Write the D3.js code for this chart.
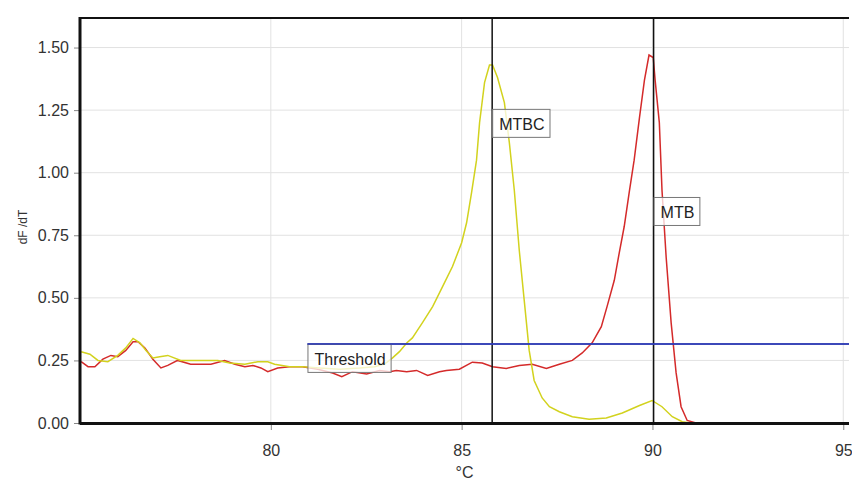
<!doctype html>
<html lang="en">
  <head>
    <meta charset="UTF-8" />
    <title>Melt curve</title>
    <script src="https://cdn.jsdelivr.net/npm/d3@7"></script>
    <style>
      body { margin: 0; background: #fff; }
      svg { display: block; font-family: "Liberation Sans", Arial, sans-serif; }
    </style>
  </head>
  <body>
    <div id="chart"></div>
    <script>
      // red trace (MTB)
      const redTemp = [75.03, 75.21, 75.39, 75.6, 75.81, 75.99, 76.2, 76.39, 76.52, 76.7, 76.91, 77.12, 77.3, 77.56, 77.9, 78.43, 78.79, 79.06, 79.32, 79.53, 79.74, 79.92, 80.18, 80.49, 80.83, 81.23, 81.62, 81.86, 82.14, 82.51, 82.85, 83.11, 83.29, 83.56, 83.82, 84.11, 84.42, 84.6, 84.94, 85.28, 85.54, 85.81, 86.17, 86.51, 86.85, 87.22, 87.56, 87.9, 88.16, 88.42, 88.66, 88.81, 89.0, 89.13, 89.26, 89.39, 89.52, 89.66, 89.79, 89.91, 90.02, 90.07, 90.18, 90.25, 90.36, 90.49, 90.62, 90.75, 90.91, 91.14, 95.0];
      const redVal = [0.245, 0.225, 0.225, 0.255, 0.27, 0.265, 0.29, 0.325, 0.325, 0.3, 0.255, 0.22, 0.23, 0.25, 0.235, 0.235, 0.25, 0.235, 0.225, 0.23, 0.22, 0.205, 0.22, 0.225, 0.225, 0.215, 0.2, 0.185, 0.205, 0.196, 0.21, 0.205, 0.21, 0.205, 0.21, 0.19, 0.205, 0.21, 0.215, 0.243, 0.24, 0.225, 0.218, 0.23, 0.235, 0.218, 0.235, 0.25, 0.28, 0.32, 0.385, 0.465, 0.57, 0.68, 0.785, 0.92, 1.05, 1.22, 1.37, 1.47, 1.46, 1.37, 1.2, 0.93, 0.66, 0.4, 0.2, 0.065, 0.01, 0.0, 0.0];

      // yellow trace (MTBC)
      const yellowTemp = [75.03, 75.26, 75.47, 75.73, 75.99, 76.2, 76.39, 76.57, 76.73, 76.91, 77.09, 77.3, 77.64, 78.0, 78.27, 78.61, 78.92, 79.32, 79.66, 79.92, 80.1, 80.49, 80.83, 81.28, 81.8, 82.33, 82.72, 82.98, 83.19, 83.37, 83.56, 83.71, 83.84, 83.97, 84.24, 84.5, 84.76, 85.0, 85.13, 85.26, 85.39, 85.47, 85.6, 85.73, 85.81, 85.94, 86.12, 86.25, 86.38, 86.51, 86.64, 86.77, 86.9, 87.11, 87.3, 87.56, 87.9, 88.34, 88.79, 89.21, 89.66, 89.99, 90.25, 90.52, 90.78, 91.0, 95.0];
      const yellowVal = [0.285, 0.275, 0.25, 0.245, 0.27, 0.3, 0.338, 0.32, 0.29, 0.26, 0.265, 0.27, 0.25, 0.25, 0.25, 0.25, 0.24, 0.235, 0.245, 0.245, 0.235, 0.225, 0.225, 0.22, 0.215, 0.22, 0.225, 0.235, 0.26, 0.285, 0.32, 0.34, 0.37, 0.4, 0.465, 0.545, 0.625, 0.72, 0.8, 0.92, 1.05, 1.2, 1.36, 1.43, 1.43, 1.38, 1.28, 1.12, 0.93, 0.69, 0.49, 0.29, 0.17, 0.1, 0.065, 0.045, 0.025, 0.015, 0.02, 0.04, 0.07, 0.09, 0.065, 0.025, 0.005, 0.0, 0.0];

      const markerNames = ["MTBC", "MTB"];
      const markerTemps = [85.8, 90.03];
      const markerLabelLevels = [1.255, 0.903];

      const thresholdValue = 0.316;
      const thresholdStart = 80.96;

      const xTicks = [80, 85, 90, 95];
      const yTicks = [0, 0.25, 0.5, 0.75, 1.0, 1.25, 1.5];

      const width = 852;
      const height = 483;
      const marginLeft = 80;
      const marginTop = 18;
      const plotRight = 849;
      const plotBottom = 423;

      const x = d3.scaleLinear().domain([75, 95.15]).range([marginLeft, plotRight]);
      const y = d3.scaleLinear().domain([0, 1.618]).range([plotBottom, marginTop]);

      const svg = d3.select("#chart").append("svg")
        .attr("width", width)
        .attr("height", height);

      svg.append("rect").attr("width", width).attr("height", height).attr("fill", "#fff");

      // grid
      svg.append("g")
        .selectAll("line")
        .data(yTicks)
        .join("line")
        .attr("x1", marginLeft).attr("x2", plotRight)
        .attr("y1", d => y(d)).attr("y2", d => y(d))
        .attr("stroke", "#e2e2e2");

      svg.append("g")
        .selectAll("line")
        .data(xTicks)
        .join("line")
        .attr("x1", d => x(d)).attr("x2", d => x(d))
        .attr("y1", marginTop).attr("y2", plotBottom)
        .attr("stroke", "#e2e2e2");

      // curves
      const line = d3.line().x(d => x(d[0])).y(d => y(d[1]));
      const redData = redTemp.map((t, i) => [t, redVal[i]]);
      const yellowData = yellowTemp.map((t, i) => [t, yellowVal[i]]);

      svg.append("path")
        .datum(redData)
        .attr("d", line)
        .attr("fill", "none")
        .attr("stroke", "#d42a2a")
        .attr("stroke-width", 1.5);

      svg.append("path")
        .datum(yellowData)
        .attr("d", line)
        .attr("fill", "none")
        .attr("stroke", "#d2d21e")
        .attr("stroke-width", 1.5);

      // melt peak markers
      svg.append("g")
        .selectAll("line")
        .data(markerTemps)
        .join("line")
        .attr("x1", d => x(d)).attr("x2", d => x(d))
        .attr("y1", marginTop).attr("y2", plotBottom)
        .attr("stroke", "#111")
        .attr("stroke-width", 1.5);

      // threshold
      svg.append("line")
        .attr("x1", x(thresholdStart)).attr("x2", plotRight)
        .attr("y1", y(thresholdValue)).attr("y2", y(thresholdValue))
        .attr("stroke", "#2f3db4")
        .attr("stroke-width", 1.5);

      function labelBox(text, bx, by) {
        const g = svg.append("g");
        const rect = g.append("rect");
        const t = g.append("text")
          .text(text)
          .attr("x", bx + 7)
          .attr("y", by + 21)
          .attr("font-size", 16)
          .attr("fill", "#222");
        const w = t.node().getComputedTextLength() + 12;
        rect.attr("x", bx + 0.5).attr("y", by + 0.5)
          .attr("width", w).attr("height", 28)
          .attr("fill", "#fff").attr("fill-opacity", 0.75)
          .attr("stroke", "#777");
      }

      markerNames.forEach((name, i) => {
        labelBox(name, x(markerTemps[i]), y(markerLabelLevels[i]));
      });
      labelBox("Threshold", x(thresholdStart), y(thresholdValue));

      // redraw threshold over its box edge
      svg.append("line")
        .attr("x1", x(thresholdStart)).attr("x2", plotRight)
        .attr("y1", y(thresholdValue)).attr("y2", y(thresholdValue))
        .attr("stroke", "#2f3db4")
        .attr("stroke-width", 1.5);

      // axes
      const yAxis = svg.append("g")
        .attr("transform", `translate(${marginLeft},0)`)
        .call(d3.axisLeft(y).tickValues(yTicks).tickFormat(d3.format(".2f")).tickSize(6).tickPadding(5));

      const xAxis = svg.append("g")
        .attr("transform", `translate(0,${plotBottom})`)
        .call(d3.axisBottom(x).tickValues(xTicks).tickSize(7).tickPadding(15));

      [yAxis, xAxis].forEach(a => {
        a.select(".domain").remove();
        a.selectAll(".tick line").attr("stroke", "#888");
        a.selectAll(".tick text").attr("font-size", 16).attr("fill", "#333")
          .attr("font-family", "Liberation Sans, Arial, sans-serif");
      });

      // frame
      svg.append("line")
        .attr("x1", marginLeft).attr("x2", plotRight)
        .attr("y1", marginTop).attr("y2", marginTop)
        .attr("stroke", "#111").attr("stroke-width", 2);
      svg.append("line")
        .attr("x1", marginLeft).attr("x2", marginLeft)
        .attr("y1", marginTop - 1).attr("y2", plotBottom + 1.5)
        .attr("stroke", "#111").attr("stroke-width", 3);
      svg.append("line")
        .attr("x1", marginLeft).attr("x2", plotRight)
        .attr("y1", plotBottom + 0.5).attr("y2", plotBottom + 0.5)
        .attr("stroke", "#111").attr("stroke-width", 3);

      // axis titles
      svg.append("text")
        .text("°C")
        .attr("x", (marginLeft + plotRight) / 2)
        .attr("y", 478)
        .attr("text-anchor", "middle")
        .attr("font-size", 16)
        .attr("fill", "#333");

      svg.append("text")
        .text("dF /dT")
        .attr("transform", "translate(27,227) rotate(-90)")
        .attr("text-anchor", "middle")
        .attr("font-size", 12)
        .attr("fill", "#333");
    </script>
  </body>
</html>
